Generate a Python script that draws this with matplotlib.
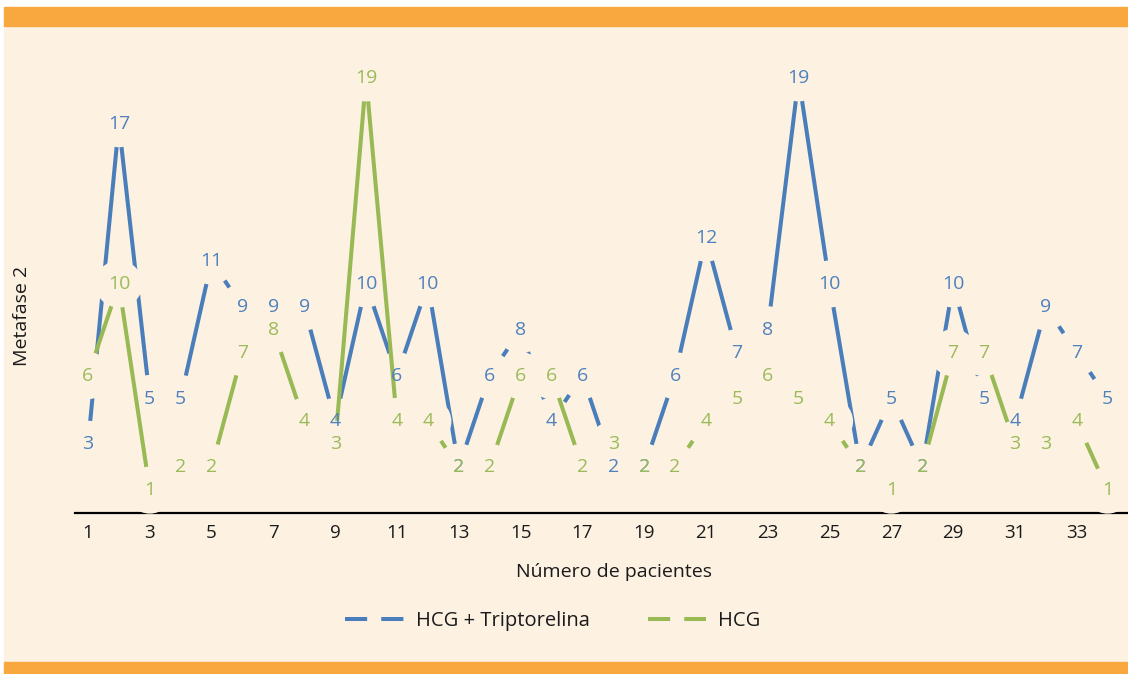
import matplotlib.pyplot as plt
from matplotlib.patches import Rectangle
from matplotlib.lines import Line2D

# patients 1..34, Metafase 2 counts
patients = list(range(1, 35))
hcg_tript = [3, 17, 5, 5, 11, 9, 9, 9, 4, 10, 6, 10, 2, 6, 8, 4, 6, 2, 2, 6,
             12, 7, 8, 19, 10, 2, 5, 2, 10, 5, 4, 9, 7, 5]
hcg = [6, 10, 1, 2, 2, 7, 8, 4, 3, 19, 4, 4, 2, 2, 6, 6, 2, 3, 2, 2,
       4, 5, 6, 5, 4, 2, 1, 2, 7, 7, 3, 3, 4, 1]
xticks = list(range(1, 35, 2))

BG = '#FDF1E2'
ORANGE = '#F9A83F'
BLUE = '#4A7EBB'
GREEN = '#98B954'
BLUE_TXT = '#4F81BD'
GREEN_TXT = '#9BBB59'

plt.rcParams['font.family'] = ['Open Sans', 'DejaVu Sans']

W, H = 1128, 674
fig = plt.figure(figsize=(W / 100, H / 100), dpi=100, facecolor='white')

# frame: cream panel with orange bands top and bottom
fig.patches.append(Rectangle((4 / W, 12 / H), 1 - 4 / W, (H - 26 - 12) / H,
                             transform=fig.transFigure, color=BG, zorder=-5))
fig.patches.append(Rectangle((4 / W, (H - 26) / H), 1 - 4 / W, 19 / H,
                             transform=fig.transFigure, color=ORANGE, zorder=-5))
fig.patches.append(Rectangle((4 / W, 0), 1 - 4 / W, 12 / H,
                             transform=fig.transFigure, color=ORANGE, zorder=-5))

ax = fig.add_axes([75 / W, 161 / H, (W - 75) / W, 458 / H])
ax.set_facecolor('none')
ax.set_xlim(0.58, 34.66)
ax.set_ylim(0, 20)

# each series: line, then round label backgrounds that hide lines drawn so far
layers = ((hcg_tript, BLUE, BLUE_TXT), (hcg, GREEN, GREEN_TXT))
for i, (vals, lc, tc) in enumerate(layers):
    z = 2 + i
    ax.plot(patients, vals, color=lc, lw=2.9, solid_capstyle='butt', zorder=z)
    ax.scatter(patients, vals, s=1150, color=BG, edgecolors='none',
               zorder=z + 0.5, clip_on=False)
    for x, v in zip(patients, vals):
        ax.text(x, v, str(v), ha='center', va='center', color=tc,
                fontsize=14, zorder=5)

for s in ('top', 'left', 'right'):
    ax.spines[s].set_visible(False)
ax.spines['bottom'].set_color('black')
ax.spines['bottom'].set_linewidth(1.6)
ax.spines['bottom'].set_zorder(1.5)
ax.set_yticks([])
ax.set_xticks(xticks)
ax.tick_params(axis='x', length=0, pad=8, labelsize=13.5, labelcolor='#1a1a1a')

fig.text(614 / W, 1 - 572 / H, 'Número de pacientes', ha='center', va='center',
         fontsize=14, color='#1a1a1a')
fig.text(22 / W, 1 - 316 / H, 'Metafase 2', ha='center', va='center',
         rotation=90, fontsize=14, color='#1a1a1a')

handles = [Line2D([], [], color=BLUE, lw=2.9, linestyle=(0, (5.5, 3.5))),
           Line2D([], [], color=GREEN, lw=2.9, linestyle=(0, (5.5, 3.5)))]
fig.legend(handles, ['HCG + Triptorelina', 'HCG'], loc='center',
           bbox_to_anchor=(553 / W, 1 - 621 / H), ncol=2, frameon=False,
           fontsize=14.5, handlelength=2.9, handletextpad=0.6, columnspacing=2.9,
           labelcolor='#1a1a1a')

fig.savefig('out.png', dpi=100, facecolor=fig.get_facecolor())
